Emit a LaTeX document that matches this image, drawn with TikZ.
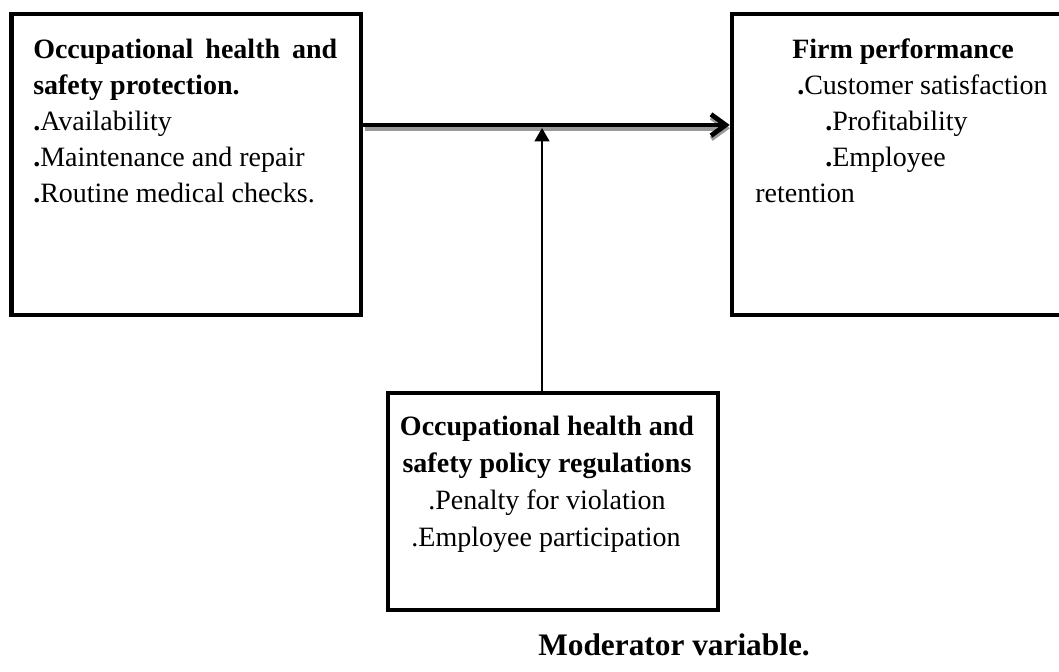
\documentclass[tikz,border=0pt]{standalone}
\usepackage{fontspec}
\setmainfont{Liberation Serif}
\usetikzlibrary{arrows.meta,fit}
\begin{document}
\begin{tikzpicture}[x=0.75pt,y=-0.75pt,
  box/.style={draw=black,line width=3.4pt,inner sep=0pt,fill=none},
  txt/.style={anchor=base west,inner sep=0pt,font=\fontsize{21}{27}\selectfont},
  ctxt/.style={anchor=base,inner sep=0pt,font=\fontsize{21}{27}\selectfont},
  mainarrow/.style={line width=3.6pt,-{Straight Barb[length=11pt,width=16pt]}},
  modarrow/.style={line width=1.8pt,-{Triangle[length=10pt,width=11pt]}},
  shadowcol/.style={draw=black!40}
]
\useasboundingbox (0,0) rectangle (1059,671);
\clip (0,0) rectangle (1059,671);
\fill[white] (0,0) rectangle (1059,671);

% boxes
\node[box,fit={(11.5,14) (361,315)}] (L) {};
\node[box,fit={(732,14) (1075,315)}] (R) {};
\node[box,fit={(388,393) (718,610)}] (B) {};

% helper coordinates
\coordinate (ay) at (0,125);
\coordinate (J) at (542,128);

% main arrow with shadow
\draw[mainarrow,shadowcol,transform canvas={xshift=1.2pt,yshift=-2.4pt}] (L.east |- ay) -- ([xshift=-1pt]R.west |- ay);
\draw[mainarrow] (L.east |- ay) -- (R.west |- ay);

% moderator arrow
\draw[modarrow] (B.north -| J) -- (J);

% left box text
\node[txt] (l1) at (33,58) {\bfseries\hbox to 228pt{Occupational\hfill health\hfill and}};
\node[txt] (l2) at (33,94) {\bfseries safety protection.};
\node[txt] (l3) at (33,130) {{\bfseries .}Availability};
\node[txt] (l4) at (33,166) {{\bfseries .}Maintenance and repair};
\node[txt] (l5) at (33,202) {{\bfseries .}Routine medical checks.};

% right box text
\node[txt] (r1) at (792,58) {\bfseries Firm performance};
\node[txt] (r2) at (797,94) {{\bfseries .}Customer satisfaction};
\node[txt] (r3) at (825,130) {{\bfseries .}Profitability};
\node[txt] (r4) at (825,166) {{\bfseries .}Employee};
\node[txt] (r5) at (755,202) {retention};

% bottom box text
\node[ctxt] (b1) at (547,435) {\bfseries Occupational health and};
\node[ctxt] (b2) at (547,472) {\bfseries safety policy regulations};
\node[ctxt] (b3) at (547,509) {.Penalty for violation};
\node[ctxt] (b4) at (546,546) {.Employee participation};

% caption
\node[anchor=base west,inner sep=0pt,font=\fontsize{23.5}{28}\selectfont\bfseries] (mod) at (538,655) {Moderator variable.};
\end{tikzpicture}
\end{document}
